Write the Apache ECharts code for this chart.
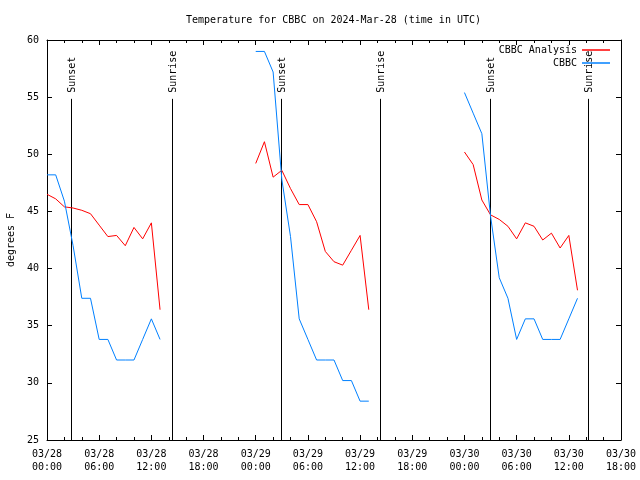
<!DOCTYPE html>
<html>
<head>
<meta charset="utf-8">
<script src="https://cdn.jsdelivr.net/npm/echarts@6/dist/echarts.min.js"></script>
<style>html,body{margin:0;padding:0;background:#fff}#c{width:640px;height:480px}</style>
</head>
<body>
<div id="c"></div>
<script>
// hours since 2024-03-28 00:00 UTC
const day1Hours = [0,1,2,3,4,5,6,7,8,9,10,11,12,13];
const day2Hours = [24,25,26,27,28,29,30,31,32,33,34,35,36,37];
const day3Hours = [48,49,50,51,52,53,54,55,56,57,58,59,60,61];

// CBBC Analysis (red)
const analysisDay1 = [46.5,46.1,45.4,45.3,45.1,44.8,43.8,42.8,42.9,42.0,43.6,42.6,44.0,36.4];
const analysisDay2 = [49.2,51.1,48.0,48.6,47.0,45.6,45.6,44.1,41.5,40.6,40.3,41.6,42.9,36.4];
const analysisDay3 = [50.2,49.1,46.0,44.7,44.3,43.7,42.6,44.0,43.7,42.5,43.1,41.8,42.9,38.1];

// CBBC observations (blue)
const obsDay1 = [48.2,48.2,45.9,42.0,37.4,37.4,33.8,33.8,32.0,32.0,32.0,33.8,35.6,33.8];
const obsDay2 = [59.0,59.0,57.2,47.8,42.8,35.6,33.8,32.0,32.0,32.0,30.2,30.2,28.4,28.4];
const obsDay3 = [55.4,53.6,51.8,44.6,39.2,37.4,33.8,35.6,35.6,33.8,33.8,33.8,35.6,37.4];

// Sunset / sunrise marker times (hours)
const sunHours = [2.8, 14.33, 26.9, 38.3, 50.95, 62.2];
const sunLabels = ['Sunset','Sunrise','Sunset','Sunrise','Sunset','Sunrise'];

const xMin = 0, xMax = 66, xStep = 6;
const yMin = 25, yMax = 60, yStep = 5;
const sunLineTop = 54.85;

function join(hoursArr, valsArr) {
  const out = [];
  hoursArr.forEach((hs, k) => {
    hs.forEach((h, i) => out.push([h, valsArr[k][i]]));
    if (k < hoursArr.length - 1) out.push([null, null]);
  });
  return out;
}
const hoursAll = [day1Hours, day2Hours, day3Hours];
const analysisData = join(hoursAll, [analysisDay1, analysisDay2, analysisDay3]);
const obsData = join(hoursAll, [obsDay1, obsDay2, obsDay3]);

const FONT = 'DejaVu Sans Mono';
const pad = n => (n < 10 ? '0' : '') + n;
function fmtHour(v) {
  const d = 28 + Math.floor(v / 24);
  const h = v % 24;
  return '03/' + pad(d) + '\n' + pad(h) + ':00';
}

const chart = echarts.init(document.getElementById('c'), null, {renderer: 'canvas'});
const axisCommon = {
  axisLine: {show: true, onZero: false, lineStyle: {color: '#000', width: 1}},
  splitLine: {show: false},
};
chart.setOption({
  animation: false,
  backgroundColor: '#fff',
  title: {
    text: 'Temperature for CBBC on 2024-Mar-28 (time in UTC)',
    left: 186, top: 15, padding: 0,
    textStyle: {fontFamily: FONT, fontSize: 10, fontWeight: 'normal', color: '#000'}
  },
  legend: [
    {data: ['CBBC Analysis'], right: 30, top: 45, padding: 0, align: 'right', icon: 'rect', itemWidth: 28, itemHeight: 1.5,
     textStyle: {fontFamily: FONT, fontSize: 10, color: '#000'}, selectedMode: false},
    {data: ['CBBC'], right: 30, top: 58, padding: 0, align: 'right', icon: 'rect', itemWidth: 28, itemHeight: 1.5,
     textStyle: {fontFamily: FONT, fontSize: 10, color: '#000'}, selectedMode: false}
  ],
  grid: {left: 47, right: 19, top: 40, bottom: 40, containLabel: false, outerBoundsMode: 'none'},
  xAxis: [
    Object.assign({}, axisCommon, {
      type: 'value', min: xMin, max: xMax, interval: xStep, position: 'bottom',
      axisTick: {show: true, inside: true, length: 5, lineStyle: {color: '#000'}},
      minorTick: {show: true, splitNumber: 3, length: 3, lineStyle: {color: '#000'}},
      axisLabel: {formatter: fmtHour, fontFamily: FONT, fontSize: 10, color: '#000', margin: 8, lineHeight: 13}
    }),
    Object.assign({}, axisCommon, {
      type: 'value', min: xMin, max: xMax, interval: xStep, position: 'top',
      axisTick: {show: true, inside: true, length: 5, lineStyle: {color: '#000'}},
      minorTick: {show: true, splitNumber: 3, length: 3, lineStyle: {color: '#000'}},
      axisLabel: {show: false}
    })
  ],
  yAxis: [
    Object.assign({}, axisCommon, {
      type: 'value', min: yMin, max: yMax, interval: yStep, position: 'left',
      name: 'degrees F', nameLocation: 'middle', nameGap: 31, nameRotate: 90,
      nameTextStyle: {fontFamily: FONT, fontSize: 10, color: '#000'},
      axisTick: {show: true, inside: true, length: 5, lineStyle: {color: '#000'}},
      axisLabel: {fontFamily: FONT, fontSize: 10, color: '#000', margin: 8}
    }),
    Object.assign({}, axisCommon, {
      type: 'value', min: yMin, max: yMax, interval: yStep, position: 'right',
      axisTick: {show: true, inside: true, length: 5, lineStyle: {color: '#000'}},
      axisLabel: {show: false}
    })
  ],
  series: [
    {
      name: 'CBBC Analysis', type: 'line', data: analysisData, connectNulls: false,
      showSymbol: false, symbol: 'none', color: '#ff0000',
      lineStyle: {color: '#ff0000', width: 1}
    },
    {
      name: 'CBBC', type: 'line', data: obsData, connectNulls: false,
      showSymbol: false, symbol: 'none', color: '#0080ff',
      lineStyle: {color: '#0080ff', width: 1}
    },
    {
      name: 'sun', type: 'custom', coordinateSystem: 'cartesian2d', silent: true,
      data: sunHours.map(h => [h]),
      renderItem: function (params, api) {
        const x = api.value(0);
        const top = api.coord([x, sunLineTop]);
        const bot = api.coord([x, yMin]);
        const px = Math.round(top[0]) + 0.5;
        return {
          type: 'group',
          children: [
            {type: 'line', shape: {x1: px, y1: top[1], x2: px, y2: bot[1]},
             style: {stroke: '#000', lineWidth: 1}},
            {type: 'text', x: px + 1, y: top[1] - 6, rotation: Math.PI / 2,
             style: {text: sunLabels[params.dataIndex], textAlign: 'left', textVerticalAlign: 'middle',
                     font: '10px ' + FONT, fill: '#000'}}
          ]
        };
      }
    }
  ]
});
</script>
</body>
</html>
